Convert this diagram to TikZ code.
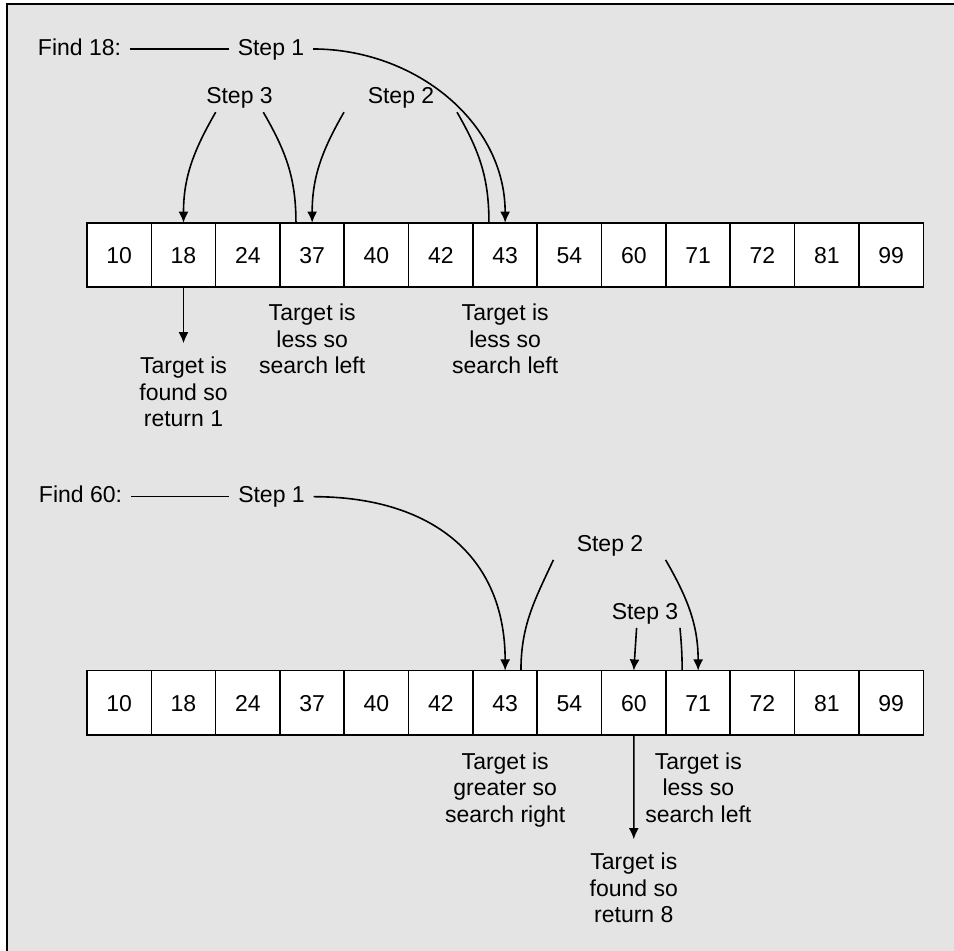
\documentclass[tikz,border=0pt]{standalone}
\usepackage{fontspec}
\setmainfont{Liberation Sans}
\usetikzlibrary{arrows.meta}
\definecolor{panel}{HTML}{E4E4E4}
\tikzset{
  cell/.style={draw, fill=white, minimum size=32.2pt, inner sep=0pt, outer sep=0pt,
    text height=8.3pt, text depth=0pt},
  lbl/.style={text height=8.3pt, text depth=2.2pt, inner xsep=4pt, inner ysep=1.8pt},
  note/.style={align=center, anchor=north, inner xsep=2pt, inner ysep=6.5pt},
  arr/.style={-{Latex[length=5.6pt,width=5pt]}},
}
\begin{document}
\begin{tikzpicture}[x=0.5pt,y=0.5pt,line width=0.8pt,font=\fontsize{11.5}{13.3}\selectfont]
\useasboundingbox (0,0) rectangle (954,951);
\fill[panel] (7,0) rectangle (954,947);
\draw[line width=1pt] (7,0) -- (7,947) -- (954,947);

% find 18
\node[lbl] (find1) at (79.5,902) {Find 18:};
\node[lbl] (s1a) at (271,902) {Step 1};
\node[lbl] (s3a) at (239.5,853.7) {Step 3};
\node[lbl] (s2a) at (401,853.7) {Step 2};
\foreach \v [count=\i from 0] in {10,18,24,37,40,42,43,54,60,71,72,81,99}
  \node[cell] (t\i) at (119.17+64.33*\i,696) {\v};
\draw (find1) -- (s1a);
\draw[arr] (s1a.east) to[out=0,in=90] (t6.north);
\draw[arr] ([xshift=-11.9pt]s3a.south) to[out=-120,in=90] (t1.north);
\draw ([xshift=11.9pt]s3a.south) to[out=-60,in=90] ([xshift=-8.1pt]t3.north);
\draw[arr] ([xshift=-28.5pt]s2a.south) to[out=-120,in=90] (t3.north);
\draw ([xshift=28pt]s2a.south) to[out=-60,in=90] ([xshift=-8.1pt]t6.north);
\node[note] (found1) at (183.5,607.7) {Target is\\found so\\return 1};
\node[note] (less1) at (312.2,660.7) {Target is\\less so\\search left};
\node[note] (less2) at (505.2,660.7) {Target is\\less so\\search left};
\draw[arr] (t1.south) -- (found1.north);

% find 60
\node[lbl] (find2) at (80.5,454.3) {Find 60:};
\node[lbl] (s1b) at (271.5,454.3) {Step 1};
\node[lbl] (s2b) at (610,406) {Step 2};
\node[lbl] (s3b) at (645,338) {Step 3};
\foreach \v [count=\i from 0] in {10,18,24,37,40,42,43,54,60,71,72,81,99}
  \node[cell] (b\i) at (119.17+64.33*\i,248.15) {\v};
\draw (find2) -- (s1b);
\draw[arr] (s1b.east) to[out=0,in=90,looseness=1.15] (b6.north);
\draw ([xshift=-28.3pt]s2b.south) to[out=-115,in=90] ([xshift=7.9pt]b6.north);
\draw[arr] ([xshift=27.8pt]s2b.south) to[out=-60,in=90] (b9.north);
\draw[arr] ([xshift=-4.2pt]s3b.south) -- (b8.north);
\draw ([xshift=17.5pt]s3b.south) to[out=-85,in=90] ([xshift=-8pt]b9.north);
\node[note] (greater) at (505.2,212.3) {Target is\\greater so\\search right};
\node[note] (less3) at (698.3,212.3) {Target is\\less so\\search left};
\node[note] (found2) at (633.8,111.7) {Target is\\found so\\return 8};
\draw[arr] (b8.south) -- (found2.north);
\end{tikzpicture}
\end{document}
